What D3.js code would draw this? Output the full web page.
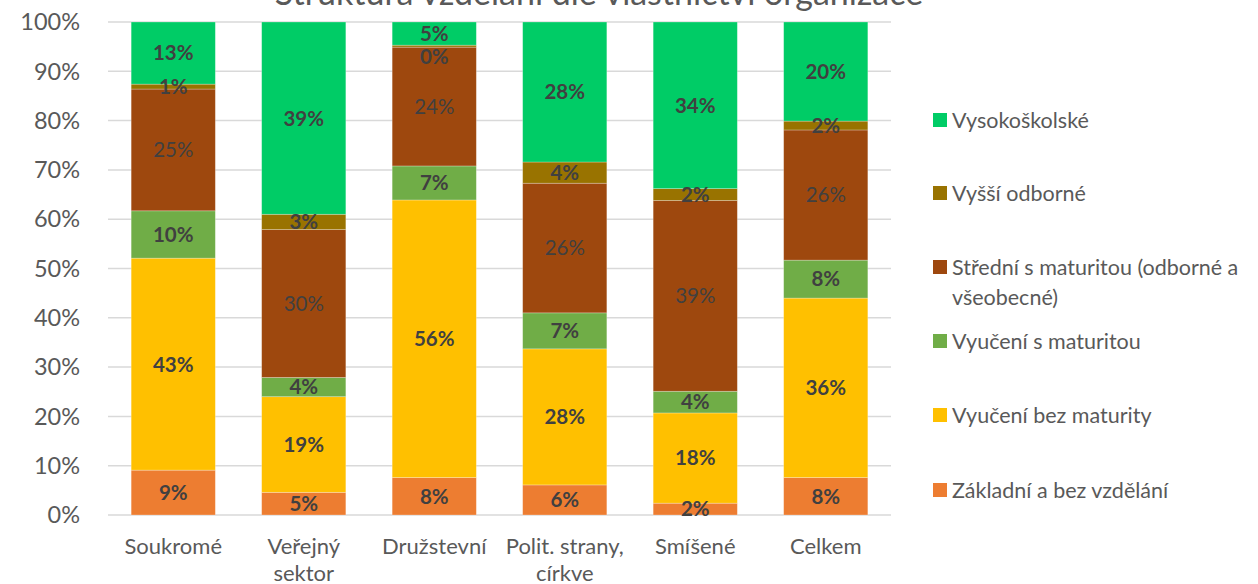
<!DOCTYPE html>
<html><head><meta charset="utf-8">
<script src="https://cdn.jsdelivr.net/npm/d3@7"></script>
<style>body{margin:0;background:#fff}svg{display:block}</style>
</head><body><svg id="c" width="1258" height="584"></svg>
<script>
const categories = ["Soukromé", "Veřejný sektor", "Družstevní", "Polit. strany, církve", "Smíšené", "Celkem"];
const categoryLines = [["Soukromé"], ["Veřejný", "sektor"], ["Družstevní"], ["Polit. strany,", "církve"], ["Smíšené"], ["Celkem"]];
const seriesNames = ["Základní a bez vzdělání", "Vyučení bez maturity", "Vyučení s maturitou", "Střední s maturitou (odborné a všeobecné)", "Vyšší odborné", "Vysokoškolské"];
const zakladni   = [9.1, 4.6, 7.6, 6.1, 2.4, 7.6];
const vyuceniBez = [43.0, 19.4, 56.3, 27.6, 18.3, 36.4];
const vyuceniS   = [9.6, 3.9, 6.9, 7.3, 4.4, 7.7];
const stredni    = [24.7, 30.0, 24.1, 26.3, 38.7, 26.4];
const vyssi      = [1.0, 3.1, 0.4, 4.3, 2.4, 1.8];
const vysoko     = [12.6, 39.0, 4.7, 28.4, 33.8, 20.1];
const yTicks = [0, 10, 20, 30, 40, 50, 60, 70, 80, 90, 100];
const colors = ["#ED7D31", "#FFC000", "#70AD47", "#9E480E", "#997300", "#00CC66"];
const legendLines = [["Vysokoškolské"], ["Vyšší odborné"], ["Střední s maturitou (odborné a", "všeobecné)"], ["Vyučení s maturitou"], ["Vyučení bez maturity"], ["Základní a bez vzdělání"]];
const title = "Struktura vzdělání dle vlastnictví organizace";

(function () {
const seriesVals = [zakladni, vyuceniBez, vyuceniS, stredni, vyssi, vysoko];
const rows = categories.map((c, i) => {
  const o = {cat: c};
  seriesNames.forEach((s, j) => o[s] = seriesVals[j][i]);
  return o;
});
const stack = d3.stack().keys(seriesNames)(rows);

const svg = d3.select("#c");
const font = "Lato, 'Open Sans', sans-serif";
const pLeft = 108, pRight = 891, pTop = 22, pBottom = 515;
const x = d3.scaleBand().domain(categories).range([pLeft, pRight]).paddingInner(0.355).paddingOuter(0.1775);
const y = d3.scaleLinear().domain([0, 100]).range([pBottom, pTop]);

svg.append("g").selectAll("line").data(yTicks).join("line")
  .attr("x1", pLeft).attr("x2", pRight)
  .attr("y1", d => y(d)).attr("y2", d => y(d))
  .attr("stroke", "#d9d9d9").attr("stroke-width", 1.5);

svg.append("g").selectAll("text").data(yTicks).join("text")
  .attr("x", 80).attr("y", d => y(d)).attr("dy", "0.35em")
  .attr("text-anchor", "end").attr("font-family", font).attr("font-size", 23.5)
  .attr("fill", "#595959").text(d => d + "%");

const g = svg.append("g");
stack.forEach((layer, j) => {
  g.append("g").selectAll("rect").data(layer).join("rect")
    .attr("x", d => x(d.data.cat)).attr("width", x.bandwidth())
    .attr("y", d => y(d[1])).attr("height", d => y(d[0]) - y(d[1]))
    .attr("fill", colors[j]).attr("stroke", "#ffffff").attr("stroke-opacity", 0.35).attr("stroke-width", 0.75);
});
// label nudge for the near-zero segment that would collide with its neighbour
const nudge = (v) => (v < 1 ? 10 : 0);
stack.forEach((layer, j) => {
  g.append("g").selectAll("text").data(layer).join("text")
    .attr("x", d => x(d.data.cat) + x.bandwidth() / 2)
    .attr("y", d => (y(d[0]) + y(d[1])) / 2 + nudge(d[1] - d[0])).attr("dy", "0.36em")
    .attr("text-anchor", "middle").attr("font-family", font).attr("font-size", 20.5)
    .attr("font-weight", j === 3 ? "normal" : "bold")
    .attr("fill", "#404040")
    .text(d => Math.round(d[1] - d[0]) + "%");
});

const xl = svg.append("g").selectAll("g").data(categories).join("g")
  .attr("transform", d => `translate(${x(d) + x.bandwidth() / 2},0)`);
xl.each(function(d, i) {
  d3.select(this).selectAll("text").data(categoryLines[i]).join("text")
    .attr("x", 0).attr("y", (t, k) => 546 + k * 27).attr("dy", "0.35em")
    .attr("text-anchor", "middle").attr("font-family", font).attr("font-size", 22)
    .attr("fill", "#595959").text(t => t);
});

const legY = [120, 193, 267, 341, 415, 490];
const legColors = colors.slice().reverse();
const lg = svg.append("g");
legendLines.forEach((lines, i) => {
  lg.append("rect").attr("x", 933).attr("y", legY[i] - 7).attr("width", 14).attr("height", 14).attr("fill", legColors[i]);
  lines.forEach((t, k) => {
    lg.append("text").attr("x", 952).attr("y", legY[i] + k * 30).attr("dy", "0.35em")
      .attr("font-family", font).attr("font-size", 21.5).attr("fill", "#595959").text(t);
  });
});

svg.append("text").attr("x", 599).attr("y", 5).attr("text-anchor", "middle")
  .attr("font-family", font).attr("font-size", 34).attr("fill", "#595959").text(title);
})();
</script></body></html>
